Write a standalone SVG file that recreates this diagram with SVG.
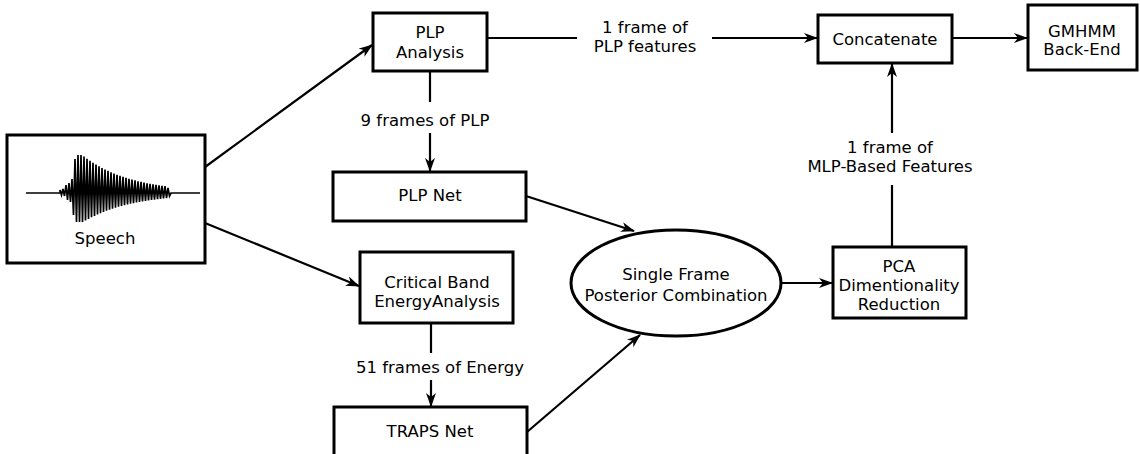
<svg xmlns="http://www.w3.org/2000/svg" width="1140" height="454" viewBox="0 0 1140 454">
<defs>
<style>
.box{fill:#fff;stroke:#000;stroke-width:3}
.ln{fill:none;stroke:#000;stroke-width:2.2}
text{font-family:"DejaVu Sans","Liberation Sans",sans-serif;font-size:16.5px;fill:#000;text-anchor:middle}
</style>
<marker id="ah" viewBox="0 0 14 10" markerWidth="14" markerHeight="10" refX="13" refY="5" orient="auto" markerUnits="userSpaceOnUse">
<path d="M0,0 L14,5 L0,10 L4,5 z" fill="#000"/>
</marker>
</defs>
<rect width="1140" height="454" fill="#fff"/>
<g id="connectors">
<line class="ln" x1="205" y1="167" x2="372" y2="45" marker-end="url(#ah)"/>
<line class="ln" x1="205" y1="223" x2="359" y2="286" marker-end="url(#ah)"/>
<line class="ln" x1="430" y1="71" x2="430" y2="102"/>
<line class="ln" x1="430" y1="133" x2="430" y2="171" marker-end="url(#ah)"/>
<line class="ln" x1="487" y1="38" x2="577" y2="38"/>
<line class="ln" x1="712" y1="38" x2="817" y2="38" marker-end="url(#ah)"/>
<line class="ln" x1="952" y1="38" x2="1027" y2="38" marker-end="url(#ah)"/>
<line class="ln" x1="526" y1="196" x2="634" y2="231" marker-end="url(#ah)"/>
<line class="ln" x1="431" y1="323" x2="431" y2="353"/>
<line class="ln" x1="431" y1="380" x2="431" y2="406" marker-end="url(#ah)"/>
<line class="ln" x1="527" y1="432" x2="640" y2="335" marker-end="url(#ah)"/>
<line class="ln" x1="781" y1="283" x2="832" y2="283" marker-end="url(#ah)"/>
<line class="ln" x1="892" y1="247" x2="892" y2="185"/>
<line class="ln" x1="892" y1="133" x2="892" y2="64" marker-end="url(#ah)"/>
<text x="645" y="33">1 frame of</text>
<text x="645" y="52">PLP features</text>
<text x="425" y="126">9 frames of PLP</text>
<text x="440" y="373">51 frames of Energy</text>
<text x="890" y="153">1 frame of</text>
<text x="890" y="172">MLP-Based Features</text>
</g>
<g id="speech">
<rect class="box" x="7" y="135" width="198" height="128"/>
<path fill="none" stroke="#000" stroke-width="1.7" d="M26,193 L60,193 L60,190 L61.5,195 L63,189 L64.5,196 L66,185 L67.5,200 L69,183 L70.5,202 L72,179 L73.5,215 L75,159 L76.5,222 L78,155 L79.5,222 L81,155 L82.5,222 L84,156.6 L85.5,220.6 L87,158.8 L88.5,218.9 L90,160.8 L91.5,217.3 L93,162.8 L94.5,215.9 L96,164.6 L97.5,214.5 L99,166.3 L100.5,213.2 L102,168 L103.5,211.9 L105,169.5 L106.5,210.8 L108,170.9 L109.5,209.7 L111,172.2 L112.5,208.7 L114,173.5 L115.5,207.8 L117,174.7 L118.5,206.8 L120,175.8 L121.5,206 L123,176.8 L124.5,205.2 L126,177.8 L127.5,204.5 L129,178.7 L130.5,203.8 L132,179.6 L133.5,203.1 L135,180.4 L136.5,202.5 L138,181.2 L139.5,202 L141,181.9 L142.5,201.4 L144,182.6 L145.5,200.9 L147,183.2 L148.5,200.5 L150,183.8 L151.5,200 L153,184.3 L154.5,199.6 L156,184.8 L157.5,199.2 L159,185.3 L160.5,198.8 L162,185.8 L163.5,198.5 L165,186.2 L166.5,198 L168,188 L169.5,196 L171,193 L200,193"/>
<text x="105" y="244">Speech</text>
</g>
<g id="plp-analysis">
<rect class="box" x="373" y="13" width="114" height="58"/>
<text x="430" y="38">PLP</text>
<text x="430" y="58">Analysis</text>
</g>
<g id="concatenate">
<rect class="box" x="818" y="15" width="134" height="48"/>
<text x="885" y="45">Concatenate</text>
</g>
<g id="gmhmm">
<rect class="box" x="1028" y="5" width="109" height="65"/>
<text x="1082" y="37">GMHMM</text>
<text x="1082" y="55">Back-End</text>
</g>
<g id="plp-net">
<rect class="box" x="333" y="172" width="193" height="49"/>
<text x="430" y="201">PLP Net</text>
</g>
<g id="critical-band">
<rect class="box" x="360" y="252" width="153" height="71"/>
<text x="437" y="288">Critical Band</text>
<text x="437" y="307">EnergyAnalysis</text>
</g>
<g id="traps-net">
<rect class="box" x="334" y="407" width="193" height="60"/>
<text x="430" y="437">TRAPS Net</text>
</g>
<g id="posterior-combination">
<ellipse class="box" cx="676" cy="283" rx="105" ry="53"/>
<text x="676" y="280">Single Frame</text>
<text x="676" y="301">Posterior Combination</text>
</g>
<g id="pca">
<rect class="box" x="833" y="247" width="133" height="71"/>
<text x="899" y="272">PCA</text>
<text x="899" y="291">Dimentionality</text>
<text x="899" y="310">Reduction</text>
</g>
</svg>
